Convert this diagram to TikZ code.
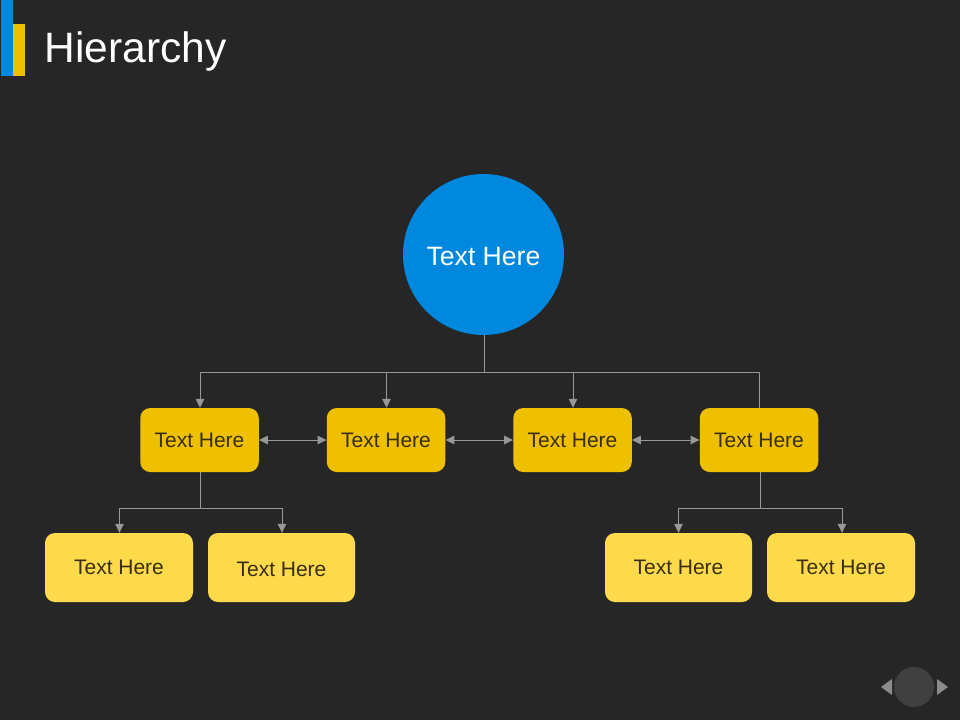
\documentclass[tikz,border=0pt]{standalone}
\usepackage{fontspec}
\setmainfont{Liberation Sans}
\usetikzlibrary{arrows.meta}
\definecolor{bgc}{HTML}{262626}
\definecolor{blu}{HTML}{0088DE}
\definecolor{yel}{HTML}{EEC000}
\definecolor{lyel}{HTML}{FFDA4A}
\definecolor{txt}{HTML}{3A2E10}
\definecolor{lin}{HTML}{989898}
\definecolor{navc}{HTML}{404040}
\definecolor{navt}{HTML}{8C8C8C}
\newcommand{\lowered}[2]{\raisebox{-#1}[\height][\depth]{#2}}
\tikzset{
  x=1pt,y=-1pt,
  boxbase/.style={rounded corners=10pt,inner sep=0pt,text=txt,font=\fontsize{21}{24}\selectfont},
  midbox/.style={boxbase,fill=yel,minimum width=118.5pt,minimum height=64pt},
  leafbox/.style={boxbase,fill=lyel,minimum width=148pt,minimum height=69pt},
  conn/.style={draw=lin,line width=1pt},
  tip/.style={conn,-{Triangle[length=9pt,width=8.5pt,fill=lin]}},
  tiptwo/.style={conn,{Triangle[length=9pt,width=8.5pt,fill=lin]}-{Triangle[length=9pt,width=8.5pt,fill=lin]}},
}
\begin{document}
\begin{tikzpicture}
\useasboundingbox (0,0) rectangle (960,720);
\fill[bgc] (0,0) rectangle (960,720);
% accent bars
\fill[blu] (1,0) rectangle (12.5,76);
\fill[yel] (13,24) rectangle (25,76);
\node[anchor=west,inner sep=0pt,text=white,font=\fontsize{42.5}{48}\selectfont] (title) at (44.5,52) {Hierarchy};
% root
\node[circle,fill=blu,minimum size=161pt,inner sep=0pt,text=white,font=\fontsize{26.6}{30}\selectfont] (root) at (483.5,254.5) {\lowered{2pt}{Text Here}};
% middle row
\node[midbox] (a) at (199.5,440) {Text Here};
\node[midbox] (b) at (386,440) {Text Here};
\node[midbox] (c) at (572.5,440) {Text Here};
\node[midbox] (d) at (759,440) {Text Here};
% leaves
\node[leafbox] (l1) at (119,567.5) {Text Here};
\node[leafbox,minimum width=147pt] (l2) at (281.5,567.5) {\lowered{1.5pt}{Text Here}};
\node[leafbox,minimum width=147pt] (l3) at (678.5,567.5) {Text Here};
\node[leafbox] (l4) at (841,567.5) {Text Here};
% connectors
\coordinate (bus) at (484,372);
\coordinate (busL) at (200,508);
\coordinate (busR) at (760,508);
\draw[conn] (root.south -| bus) -- (bus);
\draw[tip] (bus) -| ([xshift=.5pt]a.north);
\draw[tip] (bus) -| ([xshift=.5pt]b.north);
\draw[tip] (bus) -| ([xshift=.5pt]c.north);
\draw[conn] (bus) -| (d.north);
\draw[conn] (busL |- a.south) -- (busL);
\draw[tip] (busL) -| ([xshift=.5pt]l1.north);
\draw[tip] (busL) -| ([xshift=.5pt]l2.north);
\draw[conn] (busR |- d.south) -- (busR);
\draw[tip] (busR) -| (l3.north);
\draw[tip] (busR) -| ([xshift=1pt]l4.north);
\draw[tiptwo] (a.east) -- (b.west);
\draw[tiptwo] (b.east) -- (c.west);
\draw[tiptwo] (c.east) -- (d.west);
% navigation
\fill[navc] (914,687) circle (20);
\fill[navt] (881,687) -- (892,679) -- (892,695) -- cycle;
\fill[navt] (948,687) -- (937,679) -- (937,695) -- cycle;
\end{tikzpicture}
\end{document}
